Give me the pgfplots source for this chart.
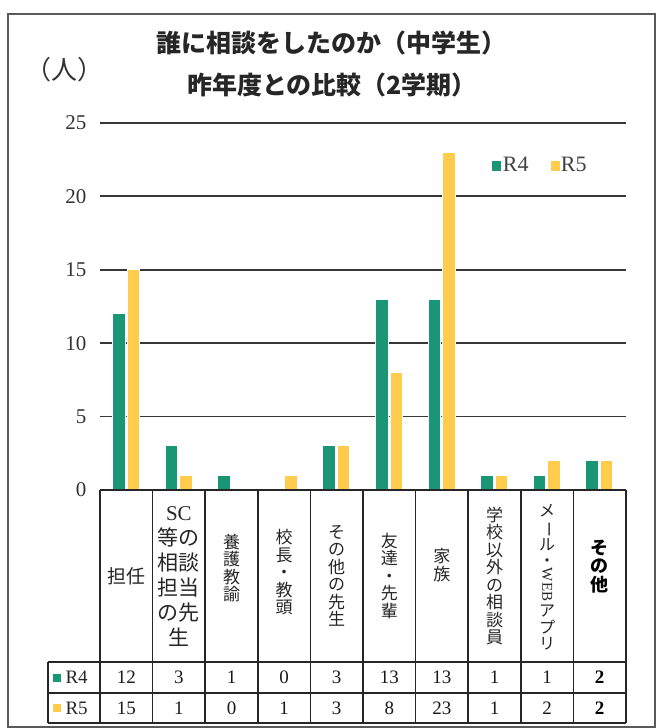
\documentclass[border=0pt]{standalone}
\usepackage{fontspec}
\setmainfont{Liberation Serif}
\newfontfamily\jp{Noto Sans CJK JP}
\usepackage{graphicx}
\usepackage{pgfplots}
\usepackage{pgfplotstable}
\pgfplotsset{compat=1.18}

\definecolor{cR4}{RGB}{26,150,118}
\definecolor{cR5}{RGB}{255,204,77}
\definecolor{gridc}{RGB}{55,55,55}
\definecolor{framec}{RGB}{90,90,90}

\pgfplotstableread{
x r4 r5
0 12 15
1 3 1
2 1 0
3 0 1
4 3 3
5 13 8
6 13 23
7 1 1
8 1 2
9 2 2
}\datatable

\pgfplotsset{tabval/.style={only marks, mark=*, mark size=0pt, mark options={draw=none,fill=none}, forget plot,
  nodes near coords={\pgfmathprintnumber[assume math mode=true]{\pgfplotspointmeta}}, point meta=explicit,
  every node near coord/.style={anchor=center, font=\fontsize{19}{19}\selectfont, text=black!90}}}

\begin{document}
\begin{tikzpicture}
\begin{scope}[x=1pt,y=1pt]
\path[use as bounding box] (0,0) rectangle (662,728);
\draw[line width=1.5pt, framec] (8,1) rectangle (655,714);
\node[font=\jp\fontsize{26}{26}\selectfont, text=black!80] at (64,658) {（人）};
\node[font=\jp\bfseries\fontsize{25}{25}\selectfont, text=black!85] at (331,685) {誰に相談をしたのか（中学生）};
\node[font=\jp\bfseries\fontsize{25}{25}\selectfont, text=black!85] at (332,643) {昨年度との比較（2学期）};
\end{scope}
\begin{axis}[
  at={(126.3pt,238pt)}, anchor=origin, scale only axis,
  width=526pt, height=367pt,
  xmin=-0.5, xmax=9.5, ymin=0, ymax=25,
  axis line style={draw=none},
  xtick=\empty, ytick={0,5,...,25},
  ymajorgrids, grid style={line width=1.8pt, gridc},
  major tick length=0pt,
  yticklabel style={font=\fontsize{21}{21}\selectfont, text=black!80,
    /pgf/number format/assume math mode=true, xshift=-10pt},
  clip=false,
  legend style={at={(0.74,0.886)}, anchor=west, draw=none, fill=none,
    font=\fontsize{22}{22}\selectfont, text=black!75,
    /tikz/every even column/.append style={column sep=20pt}},
  legend columns=2,
]
\addplot[ybar, bar width=12.5pt, bar shift=-7.5pt, fill=cR4, draw=white, line width=1pt, forget plot]
  table[x=x, y=r4]{\datatable};
\addplot[ybar, bar width=12.5pt, bar shift=7pt, fill=cR5, draw=white, line width=1pt, forget plot]
  table[x=x, y=r5]{\datatable};
\addlegendimage{legend image code/.code={\fill[cR4] (0pt,-5pt) rectangle (8pt,3.5pt);}}
\addlegendentry{R4}
\addlegendimage{legend image code/.code={\fill[cR5] (0pt,-5pt) rectangle (8pt,3.5pt);}}
\addlegendentry{R5}
% table values
\addplot[tabval, restrict x to domain=0:8] table[x=x, y expr=-12.77, meta=r4]{\datatable};
\addplot[tabval, restrict x to domain=0:8] table[x=x, y expr=-14.85, meta=r5]{\datatable};
\addplot[tabval, restrict x to domain=8.5:9.5,
  every node near coord/.append style={font=\bfseries\fontsize{19}{19}\selectfont, text=black}]
  table[x=x, y expr=-12.77, meta=r4]{\datatable};
\addplot[tabval, restrict x to domain=8.5:9.5,
  every node near coord/.append style={font=\bfseries\fontsize{19}{19}\selectfont, text=black}]
  table[x=x, y expr=-14.85, meta=r5]{\datatable};
% category labels
\begin{scope}[every node/.style={align=center, text=black!85, font=\jp\fontsize{17}{17.5}\selectfont, inner sep=0pt}]
\node[font=\jp\fontsize{19}{19}\selectfont] at (axis cs:0,-5.86) {担任};
\node[font=\jp\fontsize{21}{25}\selectfont] at (axis cs:1,-5.9) {{\rmfamily SC}\\等の\\相談\\担当\\の先\\生};
\node at (axis cs:2,-5.3) {養\\護\\教\\諭};
\node at (axis cs:3,-5.6) {校\\長\\・\\教\\頭};
\node at (axis cs:4,-5.86) {そ\\の\\他\\の\\先\\生};
\node at (axis cs:5,-5.86) {友\\達\\・\\先\\輩};
\node at (axis cs:6,-5.1) {家\\族};
\node at (axis cs:7,-5.86) {学\\校\\以\\外\\の\\相\\談\\員};
\node[font=\jp\fontsize{16}{16.5}\selectfont] at (axis cs:8,-5.95) {メ\\\rotatebox[origin=c]{-90}{ー}\\ル\\・\\\rotatebox[origin=c]{-90}{\rmfamily\fontsize{15}{15}\selectfont WEB}\\[3pt]ア\\プ\\リ};
\node[font=\jp\bfseries\fontsize{18}{18.5}\selectfont, text=black] at (axis cs:9,-5.2) {そ\\の\\他};
\end{scope}
\end{axis}
\begin{scope}[x=1pt,y=1pt]
% table grid
\begin{scope}[line width=1.6pt, black!85]
\draw (100,238) -- (626,238);
\draw (48,66) -- (626,66);
\draw (48,35) -- (626,35);
\draw (48,5) -- (626,5);
\draw (48,66) -- (48,5);
\foreach \k in {0,...,10} { \draw ({100+52.6*\k},238) -- ({100+52.6*\k},5); }
\end{scope}
% row headers
\fill[cR4] (53,46) rectangle (61,54);
\node[font=\fontsize{19}{19}\selectfont, text=black!85, anchor=west] at (62,50.5) {R4};
\fill[cR5] (53,16) rectangle (61,24);
\node[font=\fontsize{19}{19}\selectfont, text=black!85, anchor=west] at (62,20) {R5};
\end{scope}
\end{tikzpicture}
\end{document}
